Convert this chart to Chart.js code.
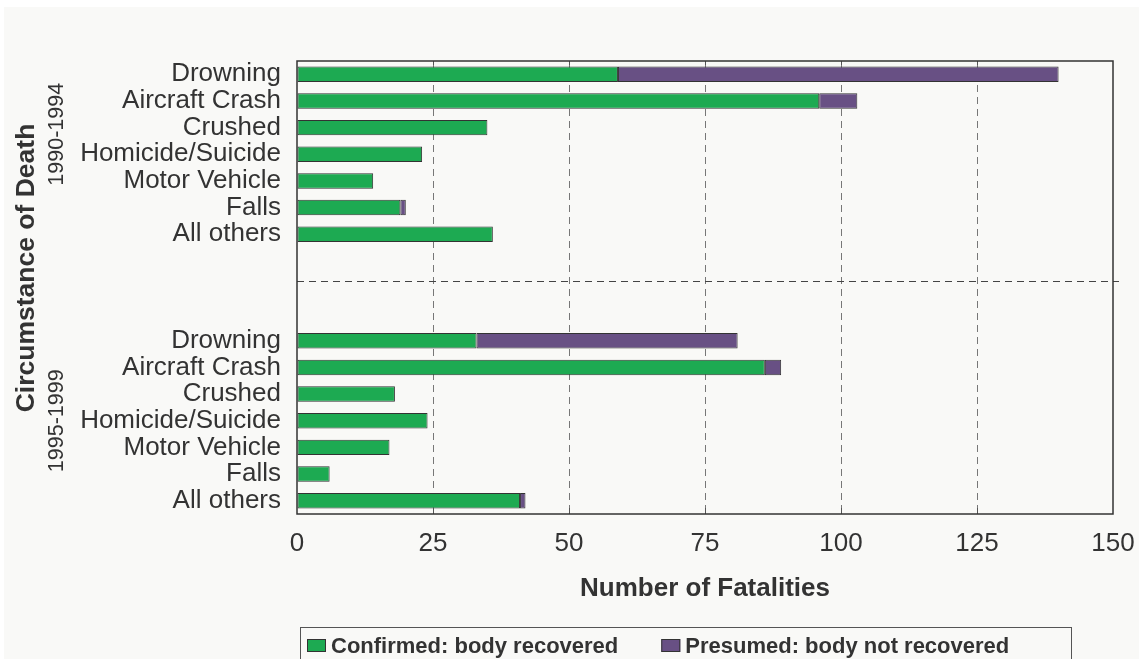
<!DOCTYPE html>
<html><head><meta charset="utf-8">
<script src="https://cdn.jsdelivr.net/npm/chart.js@4.4.0/dist/chart.umd.min.js"></script>
<style>html,body{margin:0;padding:0;background:#fff}#wrap{width:1143px;height:659px;position:relative}</style>
</head><body><div id="wrap"><canvas id="c"></canvas></div>
<script>
const causes = ['Drowning','Aircraft Crash','Crushed','Homicide/Suicide','Motor Vehicle','Falls','All others'];
const periods = ['1990-1994','1995-1999'];
const confirmed9094 = [59, 96, 35, 23, 14, 19, 36];
const presumed9094  = [81, 7, 0, 0, 0, 1, 0];
const confirmed9599 = [33, 86, 18, 24, 17, 6, 41];
const presumed9599  = [48, 3, 0, 0, 0, 0, 1];
const xTicks = [0, 25, 50, 75, 100, 125, 150];
const seriesNames = ['Confirmed: body recovered', 'Presumed: body not recovered'];
const seriesColors = ['#1daa52', '#685084'];
const xTitle = 'Number of Fatalities';
const yTitle = 'Circumstance of Death';

const gap = ['', '', ''];
const categories = [...causes, ...gap, ...causes];
const blank = gap.map(() => null);
const confirmedAll = [...confirmed9094, ...blank, ...confirmed9599];
const presumedAll = [...presumed9094, ...blank, ...presumed9599];

const FONT = '"Liberation Sans", Arial, sans-serif';
const TXT = '#333333';

const deco = {
  id: 'deco',
  beforeDraw(chart) {
    const ctx = chart.ctx;
    ctx.save();
    ctx.fillStyle = '#ffffff';
    ctx.fillRect(0, 0, chart.width, chart.height);
    ctx.fillStyle = '#f9f9f7';
    ctx.fillRect(4, 7, chart.width - 8, chart.height - 7);
    ctx.restore();
  },
  afterDatasetsDraw(chart) {
    const {ctx, chartArea: a, scales: {x, y}} = chart;
    ctx.save();
    const sepY = Math.round(y.getPixelForValue(causes.length + 0.75)) + 0.5;
    ctx.strokeStyle = '#444';
    ctx.lineWidth = 1;
    ctx.setLineDash([7, 5]);
    ctx.beginPath(); ctx.moveTo(a.left, sepY); ctx.lineTo(a.right + 6, sepY); ctx.stroke();
    ctx.setLineDash([]);
    ctx.strokeStyle = '#555';
    xTicks.slice(1, -1).forEach(v => {
      const px = Math.round(x.getPixelForValue(v)) + 0.5;
      ctx.beginPath(); ctx.moveTo(px, a.bottom); ctx.lineTo(px, a.bottom - 6); ctx.stroke();
      ctx.beginPath(); ctx.moveTo(px, a.top); ctx.lineTo(px, a.top + 4); ctx.stroke();
    });
    ctx.strokeStyle = '#333';
    ctx.lineWidth = 1.5;
    ctx.strokeRect(a.left, a.top, a.right - a.left, a.bottom - a.top);
    ctx.restore();
  },
  afterDraw(chart) {
    const {ctx, chartArea: a, scales: {x, y}} = chart;
    ctx.save();
    ctx.fillStyle = TXT;
    ctx.font = 'bold 26px ' + FONT;
    ctx.textAlign = 'center';
    ctx.textBaseline = 'alphabetic';
    ctx.fillText(xTitle, (a.left + a.right) / 2, 596);
    ctx.save();
    ctx.translate(34, 268);
    ctx.rotate(-Math.PI / 2);
    ctx.font = 'bold 26.5px ' + FONT;
    ctx.fillText(yTitle, 0, 0);
    ctx.restore();
    const pos = [y.getPixelForValue(2.25), y.getPixelForValue(13)];
    periods.forEach((p, i) => {
      ctx.save();
      ctx.translate(63, pos[i]);
      ctx.rotate(-Math.PI / 2);
      ctx.font = '21.5px ' + FONT;
      ctx.fillText(p, 0, 0);
      ctx.restore();
    });
    ctx.strokeStyle = '#555';
    ctx.lineWidth = 1;
    ctx.strokeRect(300.5, 627.5, 771, 60);
    ctx.font = 'bold 22px ' + FONT;
    ctx.textAlign = 'left';
    let lx = 307;
    seriesNames.forEach((n, i) => {
      ctx.fillStyle = seriesColors[i];
      ctx.fillRect(lx, 639, 19, 13);
      ctx.strokeStyle = '#333';
      ctx.strokeRect(lx + 0.5, 639.5, 18, 12);
      ctx.fillStyle = TXT;
      ctx.fillText(n, lx + 24, 653);
      lx = lx + 24 + ctx.measureText(n).width + 43;
    });
    ctx.restore();
  }
};

new Chart(document.getElementById('c'), {
  type: 'bar',
  data: {
    labels: categories,
    datasets: [
      {label: seriesNames[0], data: confirmedAll, backgroundColor: seriesColors[0],
       borderColor: '#333', borderWidth: c => (c.raw ? 1 : 0), borderSkipped: false,
       categoryPercentage: 1, barPercentage: 0.58},
      {label: seriesNames[1], data: presumedAll, backgroundColor: seriesColors[1],
       borderColor: '#333', borderWidth: c => (c.raw ? 1 : 0), borderSkipped: false,
       categoryPercentage: 1, barPercentage: 0.58}
    ]
  },
  options: {
    indexAxis: 'y',
    responsive: true,
    maintainAspectRatio: false,
    animation: false,
    layout: {padding: {top: 61, right: 30, left: 0, bottom: 0}},
    plugins: {legend: {display: false}, tooltip: {enabled: false}},
    scales: {
      x: {
        stacked: true, min: 0, max: 150,
        afterBuildTicks: s => { s.ticks = xTicks.map(v => ({value: v})); },
        afterFit: s => { s.height = 145; s.paddingRight = 0; s.paddingLeft = 0; },
        grid: {
          drawTicks: false,
          color: c => (c.tick && (c.tick.value === 0 || c.tick.value === 150)) ? 'rgba(0,0,0,0)' : '#777',
          lineWidth: 1
        },
        border: {display: false, dash: [7, 5]},
        ticks: {color: TXT, font: {family: FONT, size: 26}, padding: 14, maxRotation: 0}
      },
      y: {
        stacked: true,
        afterFit: s => { s.width = 297; s.paddingTop = 0; s.paddingBottom = 0; },
        grid: {display: false, drawTicks: false},
        border: {display: false},
        ticks: {color: TXT, font: {family: FONT, size: 26}, padding: 16, autoSkip: false}
      }
    }
  },
  plugins: [deco]
});
</script>
</body></html>
